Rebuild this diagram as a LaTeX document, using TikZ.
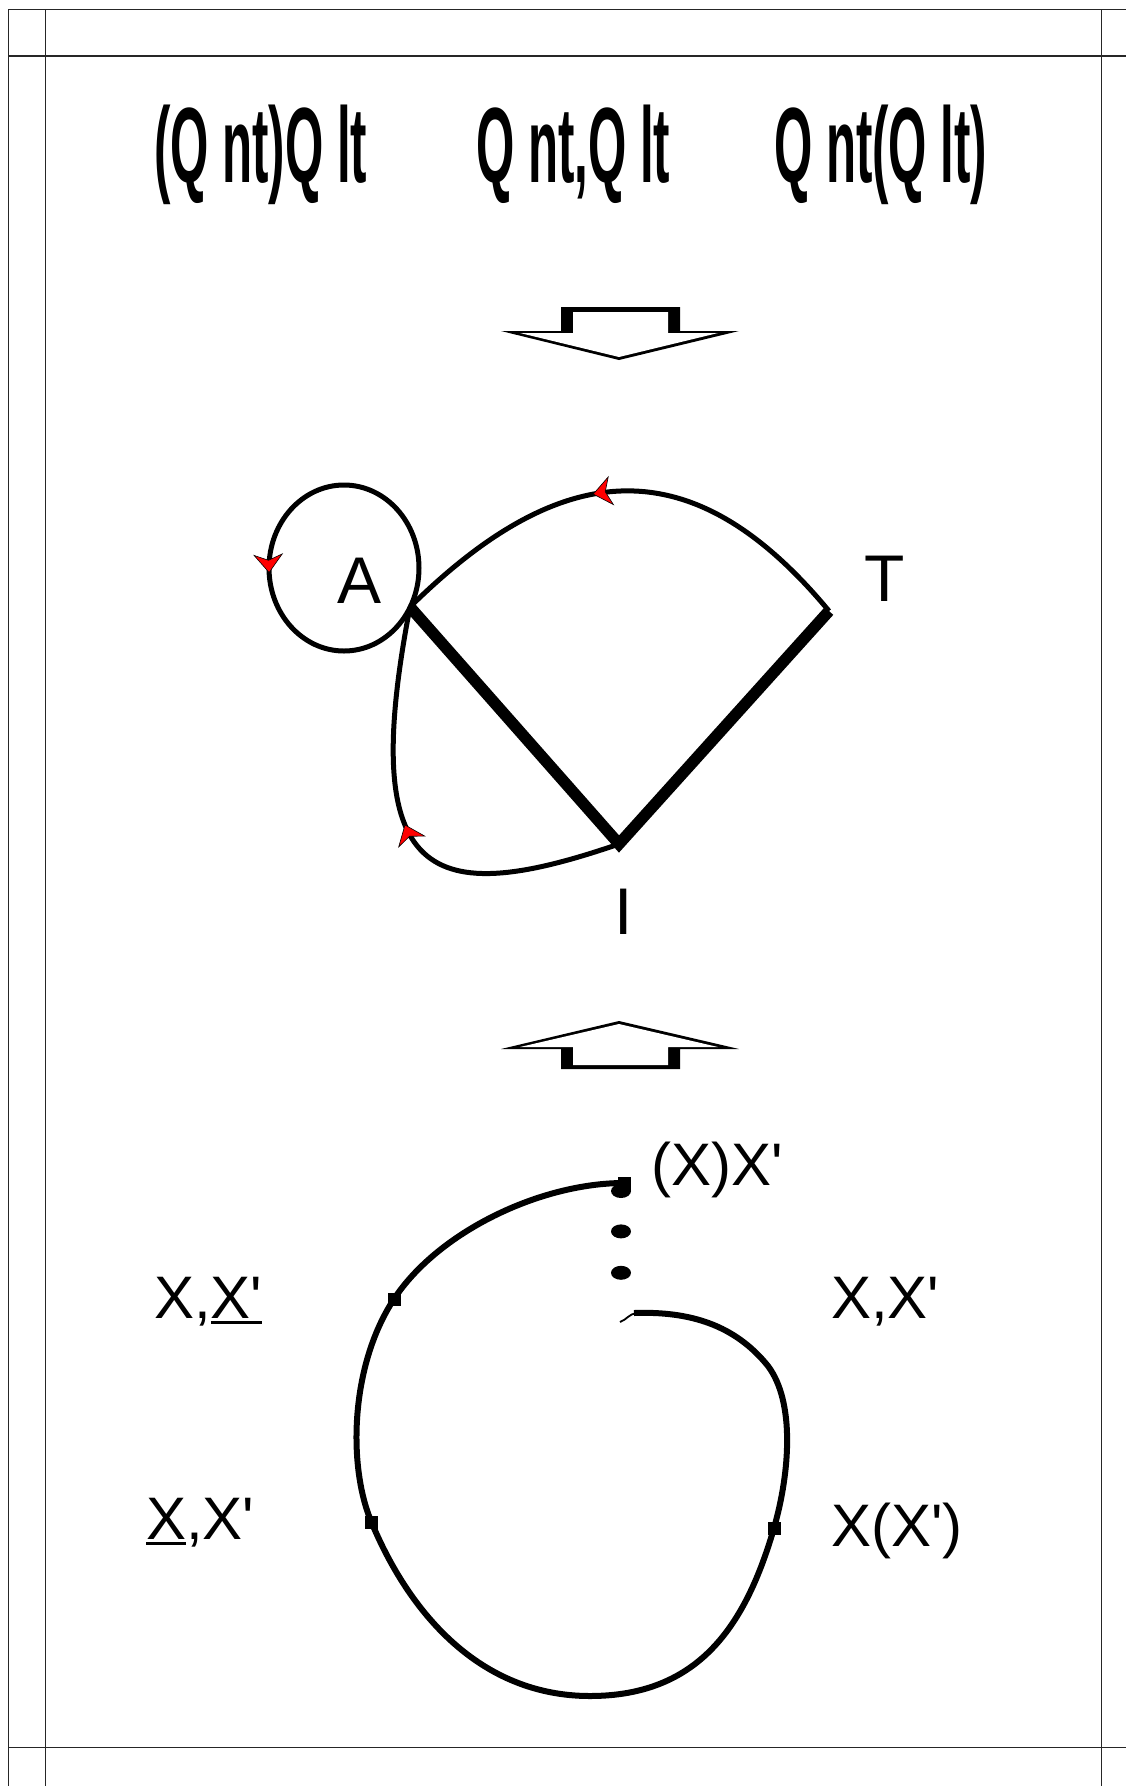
\documentclass[tikz,border=0pt]{standalone}
\usepackage{fontspec}
\setmainfont{Liberation Sans}
\usetikzlibrary{positioning,arrows.meta,decorations.markings,shapes.geometric}
\definecolor{tkRed}{RGB}{255,0,0}
\newcommand{\xul}[1]{\vtop{\hbox{#1}\kern3pt\hrule height 3pt}}
\newcommand{\pr}{\textquotesingle}

\begin{document}
\begin{tikzpicture}[x=1pt, y=1pt,
  frame/.style={line width=1.2pt, black!85},
  arc/.style={line width=5pt},
  leg/.style={line width=11.5pt, line join=miter},
  loop/.style={line width=6pt},
  big/.style={font=\bfseries\fontsize{107}{110}\selectfont, xscale=0.46, inner sep=0pt, anchor=base west},
  vlbl/.style={font=\fontsize{66}{70}\selectfont, inner sep=0pt, anchor=base},
  xlbl/.style={font=\fontsize{60}{64}\selectfont, inner sep=0pt, anchor=base west},
  sqmark/.style={fill=black, minimum size=13pt, inner sep=0pt},
  bead/.style={ellipse, fill=black, minimum width=20pt, minimum height=14pt, inner sep=0pt},
  redtip/.tip={Stealth[length=19pt, width=30pt, inset=6pt, fill=tkRed, line width=0.6pt]},
  flow/.style={postaction={decorate, decoration={markings, mark=at position #1 with {\arrow{redtip}}}}},
]
\useasboundingbox (0,0) rectangle (1126,-1786);
% frame
\draw[frame] (8.3,-1786) -- (8.3,-9.3) -- (1126,-9.3);
\draw[frame] (45.7,-9.3) -- (45.7,-1786);
\draw[frame] (1101.7,-9.3) -- (1101.7,-1786);
\draw[frame] (8.3,-56) -- (1126,-56);
\draw[frame] (8.3,-1747.5) -- (1126,-1747.5);

% top row
\node[big] (q1) at (154,-182) {(Q nt)Q lt};
\node[big] (q2) at (476,-182) {Q nt,Q lt};
\node[big] (q3) at (774,-182) {Q nt(Q lt)};

% down arrow
\fill (561,-307) -- (680,-307) -- (680,-331) -- (739,-331) -- (619,-360) -- (501,-331) -- (561,-331) -- cycle;
\fill[white] (573,-312) -- (668,-312) -- (668,-333) -- (718,-333) -- (619,-357) -- (520,-333) -- (573,-333) -- cycle;

% graph
\coordinate (vL) at (410,-607);
\coordinate (vT) at (829,-611);
\coordinate (vI) at (619,-844);
\coordinate (cA) at (344,-568);
\draw[arc, flow=0.51] (cA) ++(75,0) arc[start angle=0, end angle=360, x radius=75, y radius=83];
\draw[arc, flow=0.56] (vT) .. controls (693,-447) and (563,-456) .. (vL);
\draw[arc, flow=0.52] (vI) .. controls (430,-909) and (357,-882) .. (vL);
\draw[leg] (vL) -- (vI) -- (vT);
\node[vlbl] (lA) at (360,-603) {A};
\node[vlbl] (lT) at (885,-601) {T};
\node[vlbl] (lI) at (624,-934) {I};

% up arrow
\fill (619,-1021) -- (739,-1049) -- (680,-1049) -- (680,-1069) -- (561,-1069) -- (561,-1049) -- (501,-1049) -- cycle;
\fill[white] (619,-1024) -- (718,-1047) -- (668,-1047) -- (668,-1065) -- (573,-1065) -- (573,-1047) -- (520,-1047) -- cycle;

% open loop
\draw[loop] (624,-1183) .. controls (540,-1183) and (438,-1232) .. (394,-1299)
  .. controls (350,-1366) and (348,-1466) .. (371,-1521)
  .. controls (409,-1613) and (480,-1696) .. (590,-1696)
  .. controls (700,-1696) and (746,-1624) .. (774,-1528)
  .. controls (790,-1472) and (795,-1402) .. (768,-1366)
  .. controls (735,-1325) and (690,-1311) .. (634,-1313);
\draw[line width=1.8pt] (636,-1313) to[out=190, in=20] (620,-1322);
\node[sqmark] (s1) at (624,-1183) {};
\node[sqmark] (s2) at (394,-1299) {};
\node[sqmark] (s3) at (371,-1522) {};
\node[sqmark] (s4) at (774,-1528) {};
\node[bead] (d1) at (621,-1191) {};
\node[bead, below=26pt of d1] (d2) {};
\node[bead, below=27pt of d2] (d3) {};

\node[xlbl] (x1) at (651,-1185) {(X)X\pr};
\node[xlbl] (x2) at (154,-1318) {X,\xul{X\pr}};
\node[xlbl] (x3) at (831,-1318) {X,X\pr};
\node[xlbl] (x4) at (146,-1539) {\xul{X},X\pr};
\node[xlbl] (x5) at (831,-1546) {X(X\pr)};
\end{tikzpicture}
\end{document}
